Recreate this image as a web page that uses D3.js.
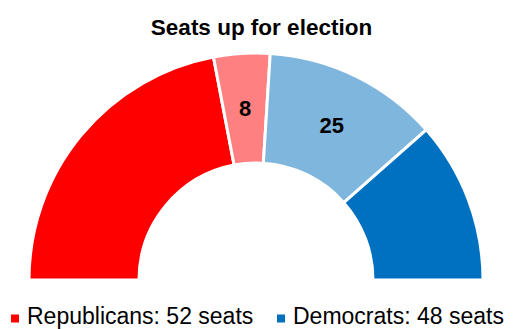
<!DOCTYPE html>
<html><head><meta charset="utf-8">
<script src="https://cdn.jsdelivr.net/npm/d3@7"></script>
<style>body{margin:0;background:#fff}svg{display:block}</style>
</head><body>
<script>
const segments = ["Republicans (not up)", "Republicans (up)", "Democrats (up)", "Democrats (not up)"];
const seats = [44, 8, 25, 23];
const segmentLabels = ["", "8", "25", ""];
const colors = ["#FF0000", "#FF8080", "#7FB6DE", "#0070C0"];
const legendNames = ["Republicans: 52 seats", "Democrats: 48 seats"];
const legendColors = ["#FF0000", "#0070C0"];
const title = "Seats up for election";

const W = 514, H = 329;
const svg = d3.select("body").append("svg").attr("width", W).attr("height", H);
const font = "Arial, 'Liberation Sans', sans-serif";

svg.append("text").attr("x", 261.5).attr("y", 35).attr("text-anchor", "middle")
  .attr("font-family", font).attr("font-weight", "bold").attr("font-size", 22.5)
  .attr("fill", "#000").text(title);

const cx = 256, cy = 280, rOuter = 227, rInner = 117;
const pie = d3.pie().sort(null).startAngle(-Math.PI / 2).endAngle(Math.PI / 2);
const arcs = pie(seats);
const arc = d3.arc().innerRadius(rInner).outerRadius(rOuter);
const g = svg.append("g").attr("transform", `translate(${cx},${cy})`);
g.selectAll("path").data(arcs).join("path")
  .attr("d", arc).attr("fill", (d, i) => colors[i])
  .attr("stroke", "#fff").attr("stroke-width", 3).attr("stroke-linejoin", "miter");
g.selectAll("text").data(arcs).join("text")
  .attr("transform", d => `translate(${arc.centroid(d)})`)
  .attr("text-anchor", "middle").attr("dy", "0.35em")
  .attr("font-family", font).attr("font-weight", "bold").attr("font-size", 22)
  .attr("fill", "#000").text((d, i) => segmentLabels[i]);

const legendX = [11, 277];
const lg = svg.append("g");
legendNames.forEach((name, i) => {
  lg.append("rect").attr("x", legendX[i]).attr("y", 314.5).attr("width", 8).attr("height", 8)
    .attr("fill", legendColors[i]);
  lg.append("text").attr("x", legendX[i] + 16).attr("y", 323.5)
    .attr("font-family", font).attr("font-size", 23).attr("fill", "#000").text(name);
});
</script>
</body></html>
